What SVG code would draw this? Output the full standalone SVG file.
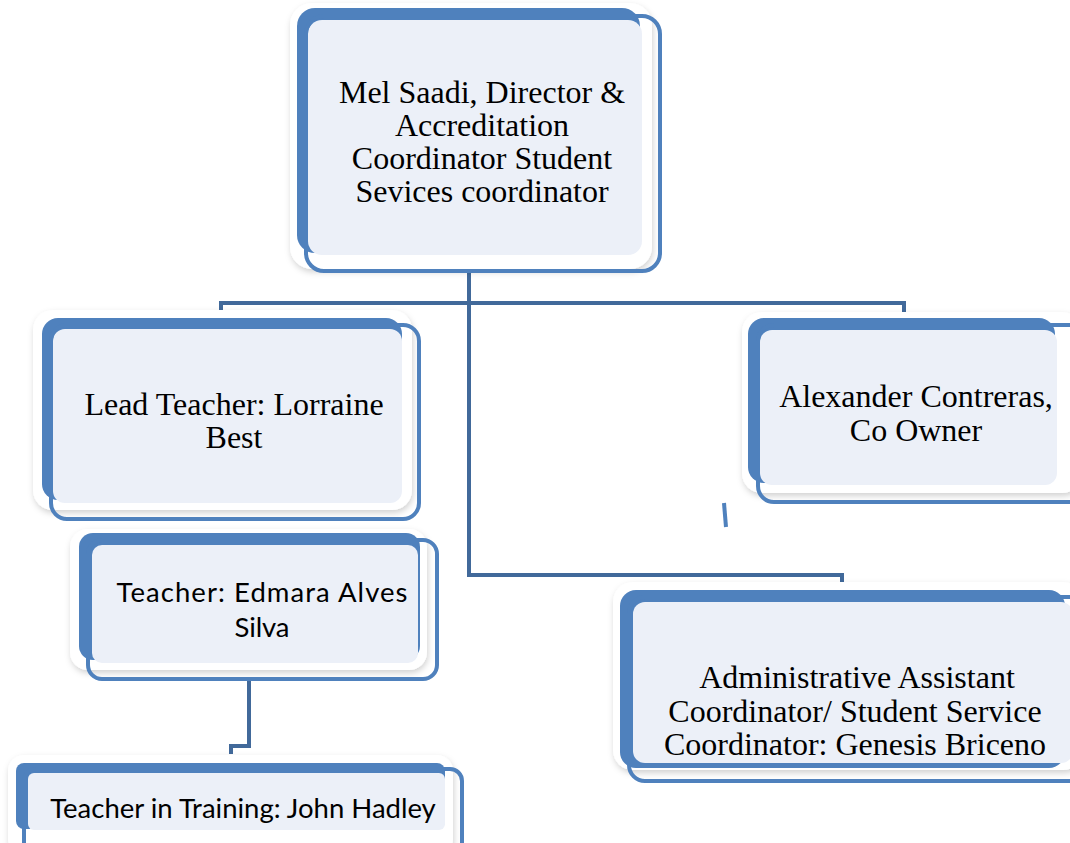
<svg xmlns="http://www.w3.org/2000/svg" width="1070" height="843" viewBox="0 0 1070 843">
<defs>
<filter id="sh" x="-10%" y="-10%" width="120%" height="130%">
<feDropShadow dx="1" dy="3" stdDeviation="3" flood-color="#000" flood-opacity="0.18"/>
</filter>
<style>
.card{fill:#fff;filter:url(#sh)}
.back{fill:#4F81BD}
.face{fill:#ECF0F8}
.rim{fill:none;stroke:#4F81BD;stroke-width:4}
.con{fill:none;stroke:#41699A;stroke-width:4;stroke-linejoin:miter}
.serif{font-family:"Liberation Serif","Times New Roman",serif;font-size:32px;fill:#000;text-anchor:middle}
.sans{font-family:Lato,"Open Sans","Liberation Sans",sans-serif;font-size:27.5px;fill:#000;text-anchor:middle}
</style>
</defs>
<rect width="1070" height="843" fill="#fff"/>
<g id="connectors">
<path class="con" d="M221,312 V303 H904 V312"/>
<path class="con" d="M469,272 V575 H842 V582"/>
<path class="con" d="M249,680 V746 H231 V754"/>
<path d="M724,503 L726,527" stroke="#4F81BD" stroke-width="4" fill="none"/>
</g>
<g id="node-director">
<rect class="card" x="290" y="3" width="362" height="266" rx="22"/>
<rect class="back" x="297" y="8" width="343" height="245" rx="18"/>
<rect class="face" x="308" y="20" width="334" height="235" rx="14"/>
<rect class="rim" x="306" y="16" width="354" height="255" rx="18"/>
<text class="serif" x="482" y="103">Mel Saadi, Director &amp;</text>
<text class="serif" x="482" y="136">Accreditation</text>
<text class="serif" x="482" y="169">Coordinator Student</text>
<text class="serif" x="482" y="202">Sevices coordinator</text>
</g>
<g id="node-lead-teacher">
<rect class="card" x="33" y="310" width="379" height="200" rx="20"/>
<rect class="back" x="42" y="318" width="360" height="182" rx="16"/>
<rect class="face" x="53" y="329" width="349" height="174" rx="12"/>
<rect class="rim" x="51" y="325" width="368" height="194" rx="16"/>
<text class="serif" x="234" y="415">Lead Teacher: Lorraine</text>
<text class="serif" x="234" y="448">Best</text>
</g>
<g id="node-co-owner">
<rect class="card" x="742" y="312" width="340" height="181" rx="20"/>
<rect class="back" x="748" y="318" width="307" height="165" rx="16"/>
<rect class="face" x="760" y="330" width="297" height="155" rx="12"/>
<rect class="rim" x="758" y="325" width="330" height="177" rx="16"/>
<text class="serif" x="916" y="407">Alexander Contreras,</text>
<text class="serif" x="916" y="441">Co Owner</text>
</g>
<g id="node-teacher-edmara">
<rect class="card" x="70" y="529" width="357" height="141" rx="18"/>
<rect class="back" x="79" y="533" width="341" height="127" rx="14"/>
<rect class="face" x="92" y="545" width="326" height="118" rx="10"/>
<rect class="rim" x="88" y="540" width="349" height="139" rx="14"/>
<text class="sans" x="262" y="602" textLength="291" lengthAdjust="spacing">Teacher: Edmara Alves</text>
<text class="sans" x="262" y="637" textLength="55" lengthAdjust="spacing">Silva</text>
</g>
<g id="node-teacher-training">
<rect class="card" x="8" y="755" width="445" height="100" rx="16"/>
<rect class="back" x="16" y="763" width="429" height="66" rx="8"/>
<rect class="face" x="28" y="773" width="417" height="57" rx="6"/>
<rect class="rim" x="24" y="769" width="438" height="90" rx="12"/>
<text class="sans" x="243" y="818">Teacher in Training: John Hadley</text>
</g>
<g id="node-admin">
<rect class="card" x="613" y="582" width="470" height="188" rx="20"/>
<rect class="back" x="620" y="590" width="445" height="178" rx="16"/>
<rect class="face" x="633" y="602" width="440" height="161" rx="12"/>
<rect class="rim" x="629" y="597" width="460" height="184" rx="16"/>
<text class="serif" x="857" y="688">Administrative Assistant</text>
<text class="serif" x="855" y="722">Coordinator/ Student Service</text>
<text class="serif" x="855" y="755">Coordinator: Genesis Briceno</text>
</g>
</svg>
